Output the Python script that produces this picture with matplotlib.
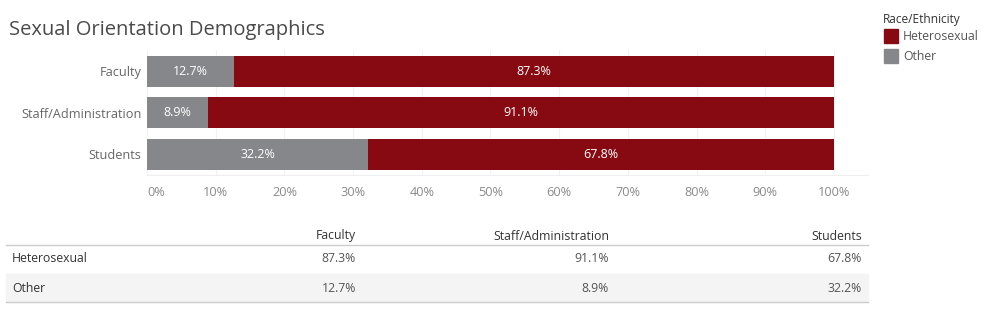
import matplotlib
matplotlib.use("Agg")
import matplotlib.pyplot as plt
from matplotlib.patches import Rectangle

groups = ["Faculty", "Staff/Administration", "Students"]
other = [12.7, 8.9, 32.2]
hetero = [87.3, 91.1, 67.8]
xticks = [0, 10, 20, 30, 40, 50, 60, 70, 80, 90, 100]
series_names = ["Heterosexual", "Other"]

RED = "#870A12"
GRAY = "#86878B"
TXT = "#555555"
FONT = "Open Sans"

W, H = 1000, 327
fig = plt.figure(figsize=(W / 100, H / 100), dpi=100)

def fx(px):
    return px / W

def fy(py):
    return 1 - py / H

# bar chart axes
ax_l, ax_r, ax_t, ax_b = 147, 868, 50, 175
ax = fig.add_axes([fx(ax_l), fy(ax_b), fx(ax_r - ax_l), (ax_b - ax_t) / H])
ypos = list(range(len(groups)))
ax.barh(ypos, other, height=0.747, color=GRAY, zorder=2)
ax.barh(ypos, hetero, left=other, height=0.747, color=RED, zorder=2)
for i, (o, h) in enumerate(zip(other, hetero)):
    ax.text(o / 2, i, f"{o}%", ha="center", va="center", color="white",
            fontsize=9, family=FONT, zorder=3)
    ax.text(o + h / 2, i, f"{h}%", ha="center", va="center", color="white",
            fontsize=9, family=FONT, zorder=3)
ax.set_xlim(0, 104.95)
ax.set_ylim(2.494, -0.518)
ax.set_yticks(ypos)
ax.set_yticklabels(groups, family=FONT, fontsize=9.2, color="#666666")
ax.set_xticks(xticks)
ax.set_xticklabels([f"{t}%" for t in xticks], family=FONT, fontsize=9.2, color="#8a8a8a")
ax.get_xticklabels()[0].set_horizontalalignment("left")
ax.tick_params(length=0, pad=8)
ax.tick_params(axis="y", pad=4)
for s in ["top", "right", "left"]:
    ax.spines[s].set_visible(False)
ax.spines["bottom"].set_color("#eeeeee")
ax.grid(axis="x", color="#f2f2f2", linewidth=0.8, zorder=0)
ax.set_axisbelow(True)

# overlay axes in pixel coords for title, legend, table
ov = fig.add_axes([0, 0, 1, 1])
ov.set_xlim(0, W)
ov.set_ylim(H, 0)
ov.axis("off")

ov.text(9, 30, "Sexual Orientation Demographics", fontsize=14.5, family=FONT,
        color="#4a4a4a", va="center", ha="left")

# legend
ov.text(883, 19, "Race/Ethnicity", fontsize=8.6, family=FONT, color="#333333",
        va="center", ha="left")
for k, (name, col) in enumerate(zip(series_names, [RED, GRAY])):
    y0 = 29 + k * 20
    ov.add_patch(Rectangle((884, y0), 14, 14, color=col))
    ov.text(903, y0 + 7, name, fontsize=8.8, family=FONT, color=TXT,
            va="center", ha="left")

# table
ov.add_patch(Rectangle((6, 274), 862, 28, color="#f4f4f4", zorder=0))
ov.plot([6, 868], [245, 245], color="#cccccc", lw=1)
ov.plot([6, 868], [302, 302], color="#cccccc", lw=1)
col_right = [356, 609, 862]
for g, xr in zip(groups, col_right):
    ov.text(xr, 236, g, fontsize=8.8, family=FONT, color="#333333",
            ha="right", va="center")
rows = [(series_names[0], hetero, 259), (series_names[1], other, 288)]
for name, vals, yy in rows:
    ov.text(12, yy, name, fontsize=8.8, family=FONT, color="#333333",
            ha="left", va="center")
    for v, xr in zip(vals, col_right):
        ov.text(xr, yy, f"{v}%", fontsize=8.8, family=FONT, color=TXT,
                ha="right", va="center")

fig.savefig("out.png", dpi=100)
